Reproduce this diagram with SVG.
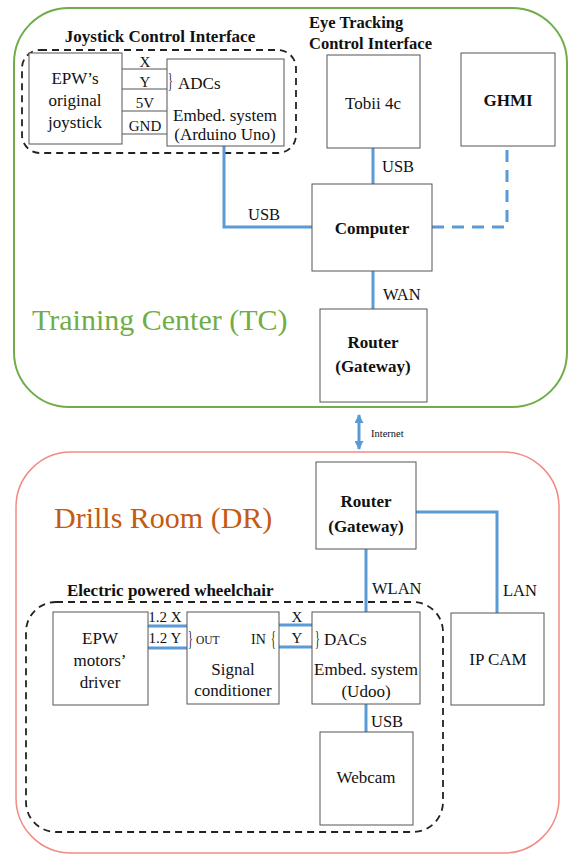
<svg xmlns="http://www.w3.org/2000/svg" width="570" height="855" viewBox="0 0 570 855">
<style>
.box{fill:#fff;stroke:#555;stroke-width:1}
.wire{stroke:#555;stroke-width:1;fill:none}
.blue{stroke:#5B9BD5;stroke-width:3;fill:none}
.dash{stroke:#222;stroke-width:1.8;fill:none;stroke-dasharray:7 5}
</style>
<defs>
<marker id="ah" viewBox="0 0 10 10" refX="9" refY="5" markerWidth="3" markerHeight="3" orient="auto-start-reverse">
<path d="M0,0 L10,5 L0,10 z" fill="#5B9BD5"/>
</marker>
</defs>
<rect width="570" height="855" fill="#fff"/>
<g font-family="Liberation Serif" fill="#111">
<g id="training-center">
<rect x="14" y="8" width="553" height="399" rx="55" fill="none" stroke="#70AD47" stroke-width="2"/>
<text x="32" y="330" font-family="Liberation Serif" font-size="30" fill="#70AD47">Training Center (TC)</text>
</g>
<g id="drills-room">
<rect x="16" y="452" width="543" height="401" rx="55" fill="none" stroke="#F28B82" stroke-width="1.5"/>
<text x="54" y="528" font-family="Liberation Serif" font-size="30" fill="#C55A11">Drills Room (DR)</text>
</g>
<g id="joystick-interface">
<rect x="22" y="50" width="274" height="103" rx="18" class="dash"/>
<text x="160" y="42" font-family="Liberation Serif" font-size="17" font-weight="bold" text-anchor="middle">Joystick Control Interface</text>
</g>
<g id="wheelchair">
<rect x="26" y="602" width="417" height="230" rx="30" class="dash"/>
<text x="67" y="596" font-family="Liberation Serif" font-size="17" font-weight="bold">Electric powered wheelchair</text>
</g>
<g id="connectors" font-family="Liberation Serif">
<line x1="122" y1="69" x2="167" y2="69" class="wire"/>
<line x1="122" y1="89" x2="167" y2="89" class="wire"/>
<line x1="122" y1="111" x2="167" y2="111" class="wire"/>
<line x1="122" y1="134" x2="167" y2="134" class="wire"/>
<g font-size="15" text-anchor="middle">
<text x="145" y="67" font-family="Liberation Serif">X</text>
<text x="145" y="87" font-family="Liberation Serif">Y</text>
<text x="145" y="108" font-family="Liberation Serif">5V</text>
<text x="145" y="131" font-family="Liberation Serif">GND</text>
<text x="165" y="622" font-family="Liberation Serif">1.2 X</text>
<text x="165" y="643" font-family="Liberation Serif">1.2 Y</text>
<text x="297" y="622" font-family="Liberation Serif">X</text>
<text x="297" y="643" font-family="Liberation Serif">Y</text>
</g>
<polyline points="224,146 224,227 312,227" class="blue"/>
<line x1="373" y1="148" x2="373" y2="184" class="blue"/>
<polyline points="432,227 507,227 507,146" class="blue" stroke-dasharray="12 8"/>
<line x1="373" y1="271" x2="373" y2="309" class="blue"/>
<line x1="359" y1="415" x2="359" y2="449" class="blue" stroke-width="2.5" marker-start="url(#ah)" marker-end="url(#ah)"/>
<polyline points="416,512 497,512 497,613" class="blue"/>
<line x1="366" y1="549" x2="366" y2="612" class="blue"/>
<line x1="148" y1="626" x2="187" y2="626" class="blue"/>
<line x1="148" y1="648" x2="187" y2="648" class="blue"/>
<line x1="279" y1="625" x2="312" y2="625" class="blue"/>
<line x1="279" y1="647" x2="312" y2="647" class="blue"/>
<line x1="366" y1="704" x2="366" y2="732" class="blue"/>
<g font-size="16.5">
<text x="248" y="220" font-family="Liberation Serif">USB</text>
<text x="382" y="172" font-family="Liberation Serif">USB</text>
<text x="383" y="300" font-family="Liberation Serif">WAN</text>
<text x="503" y="596" font-family="Liberation Serif">LAN</text>
<text x="372" y="594" font-family="Liberation Serif">WLAN</text>
<text x="371" y="727" font-family="Liberation Serif">USB</text>
</g>
<text x="371" y="437" font-family="Liberation Serif" font-size="10.5">Internet</text>
</g>
<g id="epw-joystick" font-size="17" text-anchor="middle">
<rect x="29" y="53" width="93" height="91" class="box"/>
<text x="75" y="84" font-family="Liberation Serif">EPW’s</text>
<text x="75" y="106" font-family="Liberation Serif">original</text>
<text x="75" y="128" font-family="Liberation Serif">joystick</text>
</g>
<g id="arduino" font-size="17">
<rect x="167" y="59" width="117" height="87" class="box"/>
<text x="168" y="87" font-family="Liberation Serif" font-size="22" transform="translate(168 87) scale(0.45 1) translate(-168 -87)">}</text>
<text x="178" y="89" font-family="Liberation Serif">ADCs</text>
<text x="225" y="121" font-family="Liberation Serif" text-anchor="middle">Embed. system</text>
<text x="225" y="140" font-family="Liberation Serif" text-anchor="middle">(Arduino Uno)</text>
</g>
<g id="tobii" font-size="17">
<text x="309" y="28" font-family="Liberation Serif" font-weight="bold" font-size="16.5">Eye Tracking</text>
<text x="309" y="49" font-family="Liberation Serif" font-weight="bold" font-size="16.5">Control Interface</text>
<rect x="327" y="55" width="93" height="93" class="box"/>
<text x="373" y="109" font-family="Liberation Serif" text-anchor="middle">Tobii 4c</text>
</g>
<g id="ghmi" font-size="17" font-weight="bold" text-anchor="middle">
<rect x="461" y="53" width="94" height="93" class="box"/>
<text x="508" y="106" font-family="Liberation Serif">GHMI</text>
</g>
<g id="computer" font-size="17" font-weight="bold" text-anchor="middle">
<rect x="312" y="184" width="120" height="87" class="box"/>
<text x="372" y="234" font-family="Liberation Serif">Computer</text>
</g>
<g id="router-tc" font-size="17" font-weight="bold" text-anchor="middle">
<rect x="320" y="309" width="107" height="93" class="box"/>
<text x="373" y="348" font-family="Liberation Serif">Router</text>
<text x="373" y="372" font-family="Liberation Serif">(Gateway)</text>
</g>
<g id="router-dr" font-size="17" font-weight="bold" text-anchor="middle">
<rect x="316" y="462" width="100" height="87" class="box"/>
<text x="366" y="507" font-family="Liberation Serif">Router</text>
<text x="366" y="532" font-family="Liberation Serif">(Gateway)</text>
</g>
<g id="ip-cam" font-size="17" text-anchor="middle">
<rect x="451" y="613" width="93" height="92" class="box"/>
<text x="498" y="665" font-family="Liberation Serif">IP CAM</text>
</g>
<g id="epw-driver" font-size="17" text-anchor="middle">
<rect x="53" y="612" width="95" height="93" class="box"/>
<text x="100" y="644" font-family="Liberation Serif">EPW</text>
<text x="100" y="666" font-family="Liberation Serif">motors’</text>
<text x="100" y="688" font-family="Liberation Serif">driver</text>
</g>
<g id="signal-conditioner" font-size="17">
<rect x="187" y="612" width="92" height="92" class="box"/>
<text x="188" y="645" font-family="Liberation Serif" font-size="22" transform="translate(188 645) scale(0.45 1) translate(-188 -645)">}</text>
<text x="196" y="644" font-family="Liberation Serif" font-size="11.5">OUT</text>
<text x="251" y="644" font-family="Liberation Serif" font-size="14">IN</text>
<text x="271" y="645" font-family="Liberation Serif" font-size="22" transform="translate(271 645) scale(0.45 1) translate(-271 -645)">{</text>
<text x="233" y="675" font-family="Liberation Serif" text-anchor="middle">Signal</text>
<text x="233" y="696" font-family="Liberation Serif" text-anchor="middle">conditioner</text>
</g>
<g id="udoo" font-size="17">
<rect x="312" y="612" width="108" height="92" class="box"/>
<text x="315" y="645" font-family="Liberation Serif" font-size="22" transform="translate(315 645) scale(0.45 1) translate(-315 -645)">}</text>
<text x="324" y="645" font-family="Liberation Serif">DACs</text>
<text x="366" y="675" font-family="Liberation Serif" text-anchor="middle">Embed. system</text>
<text x="366" y="697" font-family="Liberation Serif" text-anchor="middle">(Udoo)</text>
</g>
<g id="webcam" font-size="17" text-anchor="middle">
<rect x="320" y="732" width="93" height="93" class="box"/>
<text x="366" y="783" font-family="Liberation Serif">Webcam</text>
</g>
</g>
</svg>
